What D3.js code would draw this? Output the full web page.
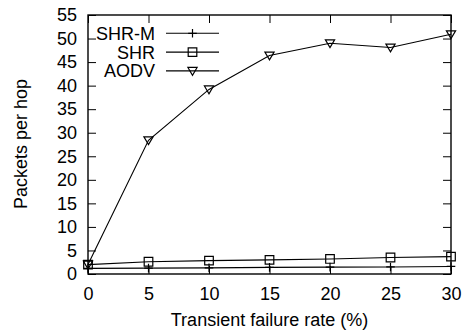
<!DOCTYPE html>
<html>
<head>
<meta charset="utf-8">
<script src="https://cdn.jsdelivr.net/npm/d3@7"></script>
<style>
  body { margin: 0; background: #fff; }
  text { font-family: "Liberation Sans", Arial, sans-serif; }
</style>
</head>
<body>
<div id="chart"></div>
<script>
// failure rate (%) on x
var rates = [0, 5, 10, 15, 20, 25, 30]
var shrM = [1.2, 1.25, 1.3, 1.4, 1.45, 1.5, 1.6]
var shr = [2.0, 2.6, 2.85, 3.0, 3.2, 3.5, 3.7]
var aodv = [2.0, 28.4, 39.2, 46.4, 49.0, 48.1, 50.9]
var xTicks = [0, 5, 10, 15, 20, 25, 30]
var yTicks = [0, 5, 10, 15, 20, 25, 30, 35, 40, 45, 50, 55]

var width = 469
var height = 334
var margin = { left: 88, top: 15, right: 18, bottom: 60 }
var fontSize = 18

var svg = d3.select("#chart").append("svg")
    .attr("width", width)
    .attr("height", height)

var x = d3.scaleLinear().domain([0, 30]).range([margin.left, width - margin.right])
var y = d3.scaleLinear().domain([0, 55]).range([height - margin.bottom, margin.top])

var tickLen = 8

// axes: ticks point inward, mirrored on the other side
svg.append("g")
    .attr("transform", "translate(0," + y(0) + ")")
    .call(d3.axisBottom(x).tickValues(xTicks).tickSizeInner(-tickLen).tickSizeOuter(0).tickPadding(13))
svg.append("g")
    .attr("transform", "translate(0," + y(55) + ")")
    .call(d3.axisTop(x).tickValues(xTicks).tickSizeInner(-tickLen).tickSizeOuter(0).tickFormat(""))
svg.append("g")
    .attr("transform", "translate(" + x(0) + ",0)")
    .call(d3.axisLeft(y).tickValues(yTicks).tickSizeInner(-tickLen).tickSizeOuter(0).tickPadding(11))
svg.append("g")
    .attr("transform", "translate(" + x(30) + ",0)")
    .call(d3.axisRight(y).tickValues(yTicks).tickSizeInner(-tickLen).tickSizeOuter(0).tickFormat(""))

svg.selectAll(".domain").remove()
svg.selectAll(".tick line").attr("stroke", "#000").attr("stroke-width", 1)
svg.selectAll(".tick text")
    .attr("font-size", fontSize)
    .attr("font-family", "Liberation Sans, Arial, sans-serif")
    .attr("fill", "#000")

// frame
svg.append("rect")
    .attr("x", x(0)).attr("y", y(55))
    .attr("width", x(30) - x(0)).attr("height", y(0) - y(55))
    .attr("fill", "none").attr("stroke", "#000").attr("stroke-width", 1.4)

// markers
function plusPath(s) { return "M" + (-s) + ",0H" + s + "M0," + (-s) + "V" + s }
function squarePath(s) { return "M" + (-s) + "," + (-s) + "h" + (2 * s) + "v" + (2 * s) + "h" + (-2 * s) + "Z" }
function triPath(s) { return "M" + (-s) + "," + (-s * 0.75) + "H" + s + "L0," + (s * 0.95) + "Z" }

var series = [
    { name: "SHR-M", values: shrM, mark: plusPath(4.3) },
    { name: "SHR", values: shr, mark: squarePath(4.3) },
    { name: "AODV", values: aodv, mark: triPath(4.6) }
]

var line = d3.line().x((d, i) => x(rates[i])).y(d => y(d))

series.forEach(function(s) {
    svg.append("path")
        .attr("d", line(s.values))
        .attr("fill", "none").attr("stroke", "#000").attr("stroke-width", 1.1)
    svg.selectAll(null).data(s.values).enter().append("path")
        .attr("transform", (d, i) => "translate(" + x(rates[i]) + "," + y(d) + ")")
        .attr("d", s.mark)
        .attr("fill", "none").attr("stroke", "#000").attr("stroke-width", 1.2)
})

// legend
var legend = svg.append("g")
series.forEach(function(s, i) {
    var ly = 33.3 + i * 18.8
    legend.append("text")
        .attr("x", 155).attr("y", ly + 6.5)
        .attr("text-anchor", "end")
        .attr("font-size", fontSize)
        .text(s.name)
    legend.append("line")
        .attr("x1", 166).attr("x2", 219).attr("y1", ly).attr("y2", ly)
        .attr("stroke", "#000").attr("stroke-width", 1.1)
    legend.append("path")
        .attr("transform", "translate(192.5," + ly + ")")
        .attr("d", s.mark)
        .attr("fill", "none").attr("stroke", "#000").attr("stroke-width", 1.2)
})

// axis labels
svg.append("text")
    .attr("x", (x(0) + x(30)) / 2).attr("y", 326)
    .attr("text-anchor", "middle")
    .attr("font-size", fontSize)
    .text("Transient failure rate (%)")

svg.append("text")
    .attr("transform", "translate(27," + 144 + ") rotate(-90)")
    .attr("text-anchor", "middle")
    .attr("font-size", fontSize)
    .text("Packets per hop")
</script>
</body>
</html>
